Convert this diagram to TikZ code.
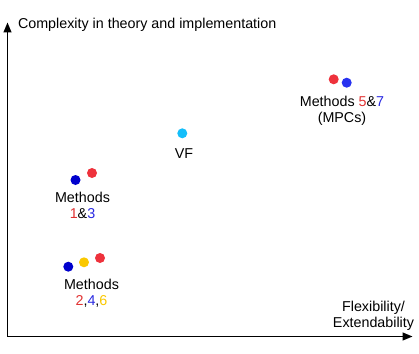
\documentclass[tikz,border=0pt]{standalone}
\usepackage{fontspec}
\setmainfont{Liberation Sans}
\usetikzlibrary{arrows.meta}
\definecolor{dred}{RGB}{238,50,60}
\definecolor{dblue}{RGB}{0,0,205}
\definecolor{bblue}{RGB}{40,50,240}
\definecolor{dcyan}{RGB}{20,190,250}
\definecolor{dyellow}{RGB}{250,200,0}
\definecolor{tred}{RGB}{225,50,50}
\definecolor{tblue}{RGB}{40,40,225}
\begin{document}
\begin{tikzpicture}[x=1pt,y=-1pt,
  every node/.style={font=\fontsize{14.3}{16}\selectfont, inner sep=0pt, outer sep=0pt},
  dot/.style={circle, minimum size=10pt, inner sep=0pt},
  axis/.style={line width=1.3pt, -{Triangle[length=10pt,width=8pt]}},
  lbl/.style={align=center, anchor=base}
]
\useasboundingbox (0,0) rectangle (419,353);
% axes
\coordinate (O) at (7.5,336.5);
\coordinate (Ytop) at (7.5,22.5);
\coordinate (Xend) at (412.5,336.5);
\draw[axis] (O) -- (Ytop);
\draw[axis] (O) -- (Xend);
\node[anchor=base west] (ylab) at (18,28.3) {Complexity in theory and implementation};
\node[lbl] (xlab) at (373.5,327) {Flexibility/\\Extendability};
% Methods 5&7
\node[dot, fill=dred] (m5) at (333.7,79.3) {};
\node[dot, fill=bblue] (m7) at (346.7,82.7) {};
\node[lbl] (t57) at (342,122.7) {Methods \textcolor{tred}{5}\&\textcolor{tblue}{7}\\(MPCs)};
% VF
\node[dot, fill=dcyan] (vf) at (182.3,133.3) {};
\node[lbl] (tvf) at (184,158.5) {VF};
% Methods 1&3
\node[dot, fill=dblue] (m3) at (75.5,180) {};
\node[dot, fill=dred] (m1) at (92,173) {};
\node[lbl] (t13) at (82.5,218.5) {Methods\\\textcolor{tred}{1}\&\textcolor{tblue}{3}};
% Methods 2,4,6
\node[dot, fill=dblue] (m4) at (68.3,266.7) {};
\node[dot, fill=dyellow] (m6) at (84,262.3) {};
\node[dot, fill=dred] (m2) at (100,258) {};
\node[lbl] (t246) at (91.5,305) {Methods\\\textcolor{tred}{2},\textcolor{tblue}{4},\textcolor{dyellow}{6}};
\end{tikzpicture}
\end{document}
